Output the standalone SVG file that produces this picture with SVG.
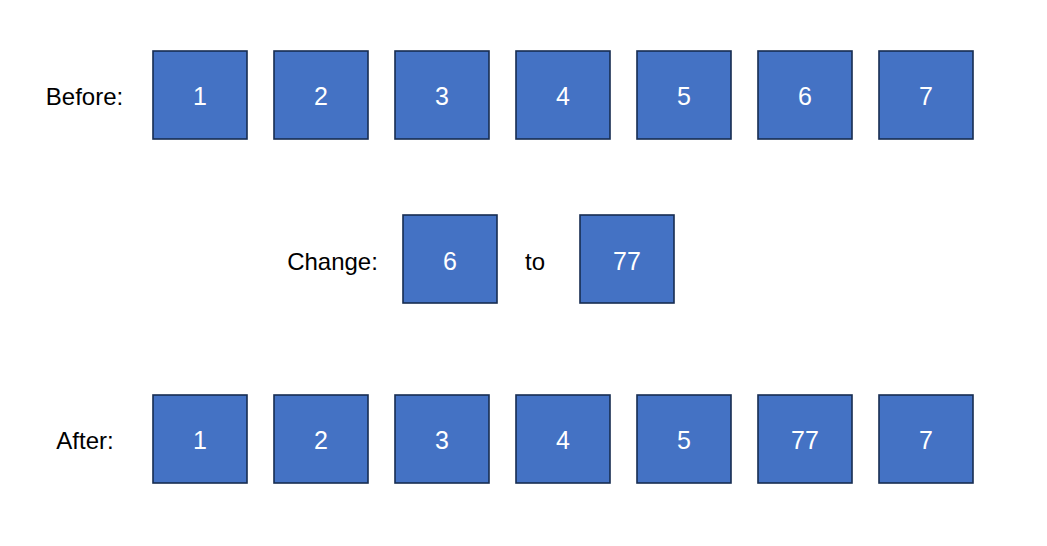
<svg xmlns="http://www.w3.org/2000/svg" width="1047" height="546" viewBox="0 0 1047 546">
<style>
.box{fill:#4472C4;stroke:#172C51;stroke-width:1.6}
.num{font-family:"Liberation Sans",Arial,sans-serif;font-size:25px;fill:#FFFFFF;text-anchor:middle}
.lbl{font-family:"Liberation Sans",Arial,sans-serif;font-size:24px;fill:#000000;text-anchor:middle}
</style>
<rect width="1047" height="546" fill="#FFFFFF"/>
<text class="lbl" x="84.5" y="105">Before:</text>
<text class="lbl" x="332.5" y="270">Change:</text>
<text class="lbl" x="535" y="270">to</text>
<text class="lbl" x="85" y="449">After:</text>
<g id="before-1"><rect class="box" x="153" y="51" width="94" height="88"/><text class="num" x="200" y="105">1</text></g>
<g id="before-2"><rect class="box" x="274" y="51" width="94" height="88"/><text class="num" x="321" y="105">2</text></g>
<g id="before-3"><rect class="box" x="395" y="51" width="94" height="88"/><text class="num" x="442" y="105">3</text></g>
<g id="before-4"><rect class="box" x="516" y="51" width="94" height="88"/><text class="num" x="563" y="105">4</text></g>
<g id="before-5"><rect class="box" x="637" y="51" width="94" height="88"/><text class="num" x="684" y="105">5</text></g>
<g id="before-6"><rect class="box" x="758" y="51" width="94" height="88"/><text class="num" x="805" y="105">6</text></g>
<g id="before-7"><rect class="box" x="879" y="51" width="94" height="88"/><text class="num" x="926" y="105">7</text></g>
<g id="change-from"><rect class="box" x="403" y="215" width="94" height="88"/><text class="num" x="450" y="270">6</text></g>
<g id="change-to"><rect class="box" x="580" y="215" width="94" height="88"/><text class="num" x="627" y="270">77</text></g>
<g id="after-1"><rect class="box" x="153" y="395" width="94" height="88"/><text class="num" x="200" y="449">1</text></g>
<g id="after-2"><rect class="box" x="274" y="395" width="94" height="88"/><text class="num" x="321" y="449">2</text></g>
<g id="after-3"><rect class="box" x="395" y="395" width="94" height="88"/><text class="num" x="442" y="449">3</text></g>
<g id="after-4"><rect class="box" x="516" y="395" width="94" height="88"/><text class="num" x="563" y="449">4</text></g>
<g id="after-5"><rect class="box" x="637" y="395" width="94" height="88"/><text class="num" x="684" y="449">5</text></g>
<g id="after-6"><rect class="box" x="758" y="395" width="94" height="88"/><text class="num" x="805" y="449">77</text></g>
<g id="after-7"><rect class="box" x="879" y="395" width="94" height="88"/><text class="num" x="926" y="449">7</text></g>
<g id="connectors"></g>
</svg>
